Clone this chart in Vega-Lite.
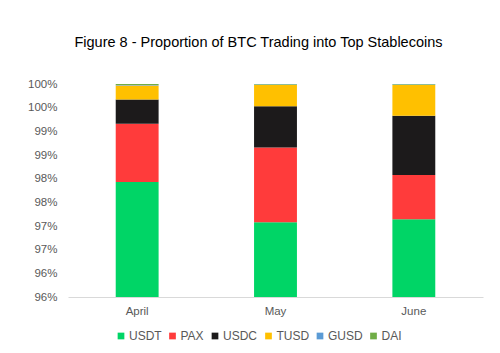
{
  "$schema": "https://vega.github.io/schema/vega-lite/v6.json",
  "width": 415,
  "height": 213,
  "autosize": {"type": "none"},
  "padding": {"left": 68, "top": 84, "right": 17, "bottom": 56},
  "background": "white",
  "title": {
    "text": "Figure 8 - Proportion of BTC Trading into Top Stablecoins",
    "font": "Liberation Sans",
    "fontSize": 14.5,
    "fontWeight": "normal",
    "color": "#000000",
    "anchor": "middle",
    "dx": -17,
    "offset": 28
  },
  "data": {
    "values": [
      {"month": "April", "coin": "USDT", "rank": 1, "share": 0.9793},
      {"month": "April", "coin": "PAX", "rank": 2, "share": 0.0123},
      {"month": "April", "coin": "USDC", "rank": 3, "share": 0.0051},
      {"month": "April", "coin": "TUSD", "rank": 4, "share": 0.0030},
      {"month": "April", "coin": "GUSD", "rank": 5, "share": 0.0001},
      {"month": "April", "coin": "DAI", "rank": 6, "share": 0.0002},
      {"month": "May", "coin": "USDT", "rank": 1, "share": 0.9708},
      {"month": "May", "coin": "PAX", "rank": 2, "share": 0.0158},
      {"month": "May", "coin": "USDC", "rank": 3, "share": 0.0087},
      {"month": "May", "coin": "TUSD", "rank": 4, "share": 0.0045},
      {"month": "May", "coin": "GUSD", "rank": 5, "share": 0.0001},
      {"month": "May", "coin": "DAI", "rank": 6, "share": 0.0001},
      {"month": "June", "coin": "USDT", "rank": 1, "share": 0.9714},
      {"month": "June", "coin": "PAX", "rank": 2, "share": 0.0094},
      {"month": "June", "coin": "USDC", "rank": 3, "share": 0.0125},
      {"month": "June", "coin": "TUSD", "rank": 4, "share": 0.0065},
      {"month": "June", "coin": "GUSD", "rank": 5, "share": 0.0001},
      {"month": "June", "coin": "DAI", "rank": 6, "share": 0.0001}
    ]
  },
  "mark": {"type": "bar", "clip": true, "width": {"band": 0.31}},
  "encoding": {
    "x": {
      "field": "month",
      "type": "nominal",
      "sort": ["April", "May", "June"],
      "scale": {"paddingInner": 0, "paddingOuter": 0},
      "axis": {
        "title": null,
        "labelAngle": 0,
        "labelFont": "Liberation Sans",
        "labelFontSize": 11.5,
        "labelColor": "#595959",
        "labelPadding": 8,
        "ticks": false,
        "domainColor": "#D9D9D9",
        "domainWidth": 1
      }
    },
    "y": {
      "field": "share",
      "type": "quantitative",
      "stack": "zero",
      "scale": {"domain": [0.955, 1], "zero": false, "nice": false},
      "axis": {
        "title": null,
        "values": [0.955, 0.96, 0.965, 0.97, 0.975, 0.98, 0.985, 0.99, 0.995, 1.0],
        "labelExpr": "round(datum.value*100+0.001) + '%'",
        "labelFont": "Liberation Sans",
        "labelFontSize": 11.5,
        "labelColor": "#595959",
        "labelPadding": 11,
        "ticks": false,
        "domain": false,
        "grid": false
      }
    },
    "color": {
      "field": "coin",
      "type": "nominal",
      "sort": ["USDT", "PAX", "USDC", "TUSD", "GUSD", "DAI"],
      "scale": {
        "domain": ["USDT", "PAX", "USDC", "TUSD", "GUSD", "DAI"],
        "range": ["#00D566", "#FF3B3B", "#1C1A1B", "#FFC000", "#5B9BD5", "#70AD47"]
      },
      "legend": {
        "title": null,
        "orient": "none",
        "legendX": 47,
        "legendY": 246,
        "direction": "horizontal",
        "symbolType": "square",
        "symbolSize": 45,
        "symbolStrokeWidth": 0,
        "labelFont": "Liberation Sans",
        "labelFontSize": 12,
        "labelColor": "#595959",
        "labelOffset": 2,
        "columnPadding": 4.5
      }
    },
    "order": {"field": "rank", "type": "quantitative", "sort": "ascending"}
  },
  "config": {"view": {"stroke": null}}
}
